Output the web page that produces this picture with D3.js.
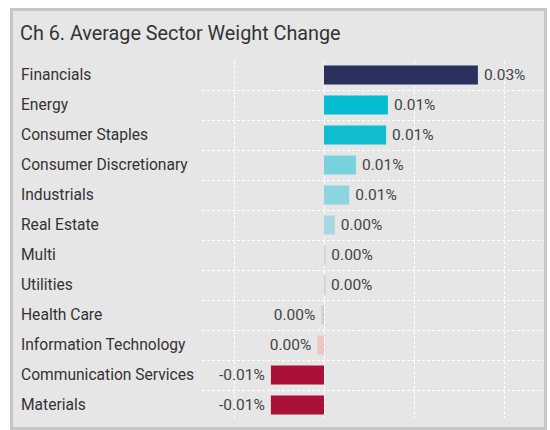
<!DOCTYPE html>
<html>
<head>
<meta charset="utf-8">
<script src="https://cdn.jsdelivr.net/npm/d3@7"></script>
<style>
	body { margin: 0; background: #ffffff; }
	svg { display: block; }
	text { font-family: "Roboto", "Liberation Sans", sans-serif; }
</style>
</head>
<body>
<svg width="550" height="430"></svg>
<script>
var categories = ['Financials', 'Energy', 'Consumer Staples', 'Consumer Discretionary', 'Industrials',
	'Real Estate', 'Multi', 'Utilities', 'Health Care', 'Information Technology',
	'Communication Services', 'Materials'];
var values = [0.0342, 0.0142, 0.0138, 0.0071, 0.0056, 0.0024, 0.0003, 0.0002, -0.0006, -0.0015, -0.0118, -0.0118];
var labels = ['0.03%', '0.01%', '0.01%', '0.01%', '0.01%', '0.00%', '0.00%', '0.00%', '0.00%', '0.00%', '-0.01%', '-0.01%'];
var colors = ['#2b315e', '#05bcd2', '#11bdd0', '#78d2de', '#8cd5e0', '#a8d9e2', '#c2d6de', '#c2d6de', '#cfcfcf', '#ecc5c5', '#ab1038', '#ab1038'];
var grid_ticks = [-0.02, 0, 0.02, 0.04];

var svg = d3.select('svg');

// Panel
svg.append('rect')
	.attr('x', 11.5).attr('y', 9.5)
	.attr('width', 534).attr('height', 419)
	.attr('fill', '#e6e6e6')
	.attr('stroke', '#c6c6c6')
	.attr('stroke-width', 3);

svg.append('text')
	.attr('x', 20).attr('y', 40)
	.attr('font-size', 19.8)
	.attr('fill', '#333333')
	.text('Ch 6. Average Sector Weight Change');

var x = d3.scaleLinear().domain([-0.02, 0.04]).range([234, 504]);
var y = d3.scaleBand().domain(categories).range([60, 420]).paddingInner(0.366).paddingOuter(0.183);
var step = y.step();

// Grid
svg.append('g').selectAll('line')
	.data(grid_ticks)
	.enter().append('line')
	.attr('x1', d => Math.round(x(d)) + 0.5)
	.attr('x2', d => Math.round(x(d)) + 0.5)
	.attr('y1', 61).attr('y2', 418)
	.attr('stroke', '#ffffff')
	.attr('stroke-width', 1)
	.attr('stroke-dasharray', '3,2');

svg.append('g').selectAll('line')
	.data(categories.slice(1))
	.enter().append('line')
	.attr('x1', 202).attr('x2', 543)
	.attr('y1', d => Math.round(y(d) - y.paddingOuter() * step) + 0.5)
	.attr('y2', d => Math.round(y(d) - y.paddingOuter() * step) + 0.5)
	.attr('stroke', '#ffffff')
	.attr('stroke-width', 1)
	.attr('stroke-dasharray', '3,2');

// Category labels
svg.append('g').selectAll('text')
	.data(categories)
	.enter().append('text')
	.attr('x', 21)
	.attr('y', d => y(d) + y.bandwidth() / 2)
	.attr('dominant-baseline', 'central')
	.attr('font-size', 15.6)
	.attr('fill', '#333333')
	.text(d => d);

// Bars
svg.append('g').selectAll('rect')
	.data(values)
	.enter().append('rect')
	.attr('x', d => Math.min(x(d), x(0)))
	.attr('y', (d, i) => y(categories[i]))
	.attr('width', d => Math.max(1.5, Math.abs(x(d) - x(0))))
	.attr('height', y.bandwidth())
	.attr('fill', (d, i) => colors[i]);

// Value labels
svg.append('g').selectAll('text')
	.data(values)
	.enter().append('text')
	.attr('x', d => d >= 0 ? x(d) + 6 : x(d) - 6)
	.attr('y', (d, i) => y(categories[i]) + y.bandwidth() / 2)
	.attr('text-anchor', d => d >= 0 ? 'start' : 'end')
	.attr('dominant-baseline', 'central')
	.attr('font-size', 15.5)
	.attr('fill', '#444444')
	.text((d, i) => labels[i]);
</script>
</body>
</html>
